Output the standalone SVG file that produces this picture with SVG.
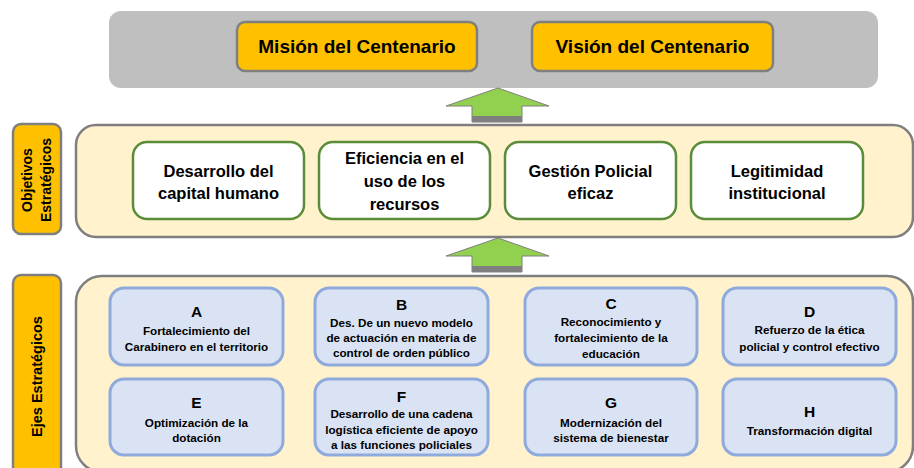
<svg xmlns="http://www.w3.org/2000/svg" width="914" height="468" viewBox="0 0 914 468">
<style>
text{font-family:"Liberation Sans",Arial,sans-serif;font-weight:bold;fill:#000;text-anchor:middle}
.gray{fill:#BFBFBF}
.gold{fill:#FFC000;stroke:#7F7F7F;stroke-width:2.5}
.cream{fill:#FFF2CC;stroke:#7F7F7F;stroke-width:2.5}
.obj{fill:#FFFFFF;stroke:#5B8C3A;stroke-width:2.5}
.eje{fill:#DAE3F3;stroke:#8FAADC;stroke-width:3}
.arr{fill:#92D050;stroke:#7F7F7F;stroke-width:1}
.band{fill:#7F7F7F}
.t1{font-size:19px}
.t2{font-size:16.5px}
.t3{font-size:11.7px}
.tl{font-size:15.5px}
.lab{font-size:14px}
</style>
<g id="top">
<rect class="gray" x="109" y="11" width="769" height="77" rx="12"/>
</g>
<g id="mision">
<rect class="gold" x="237" y="22" width="240" height="49" rx="8"/>
<text class="t1" x="357" y="53">Misión del Centenario</text>
</g>
<g id="vision">
<rect class="gold" x="532" y="22" width="241" height="49" rx="8"/>
<text class="t1" x="652.5" y="53">Visión del Centenario</text>
</g>
<g id="objetivos-label">
<rect class="gold" x="13" y="124" width="48" height="110" rx="8"/>
<text class="lab" transform="translate(32,180) rotate(-90)">Objetivos</text>
<text class="lab" transform="translate(51,180) rotate(-90)">Estratégicos</text>
</g>
<g id="objetivos">
<rect class="cream" x="76" y="125" width="837" height="112" rx="20"/>
</g>
<g id="obj1">
<rect class="obj" x="133" y="142" width="171" height="77" rx="14"/>
<text class="t2" x="218.5" y="177">Desarrollo del</text>
<text class="t2" x="218.5" y="199">capital humano</text>
</g>
<g id="obj2">
<rect class="obj" x="319" y="142" width="171" height="77" rx="14"/>
<text class="t2" x="404.5" y="164">Eficiencia en el</text>
<text class="t2" x="404.5" y="187">uso de los</text>
<text class="t2" x="404.5" y="210">recursos</text>
</g>
<g id="obj3">
<rect class="obj" x="505" y="142" width="171" height="77" rx="14"/>
<text class="t2" x="590.5" y="177">Gestión Policial</text>
<text class="t2" x="590.5" y="199">eficaz</text>
</g>
<g id="obj4">
<rect class="obj" x="691" y="142" width="172" height="77" rx="14"/>
<text class="t2" x="777" y="177">Legitimidad</text>
<text class="t2" x="777" y="199">institucional</text>
</g>
<g id="ejes-label">
<rect class="gold" x="13" y="275" width="48" height="205" rx="8"/>
<text class="lab" style="font-size:14.5px" transform="translate(42,376.5) rotate(-90)">Ejes Estratégicos</text>
</g>
<g id="ejes">
<rect class="cream" x="76" y="276" width="837" height="196" rx="26"/>
</g>
<g id="ejeA">
<rect class="eje" x="110" y="288" width="173" height="77" rx="14"/>
<text class="tl" x="196.5" y="317">A</text>
<text class="t3" x="196.5" y="335">Fortalecimiento del</text>
<text class="t3" x="196.5" y="351">Carabinero en el territorio</text>
</g>
<g id="ejeB">
<rect class="eje" x="315" y="288" width="173" height="77" rx="14"/>
<text class="tl" x="401.5" y="310">B</text>
<text class="t3" x="401.5" y="327">Des. De un nuevo modelo</text>
<text class="t3" x="401.5" y="342">de actuación en materia de</text>
<text class="t3" x="401.5" y="357">control de orden público</text>
</g>
<g id="ejeC">
<rect class="eje" x="525" y="288" width="172" height="77" rx="14"/>
<text class="tl" x="611" y="309">C</text>
<text class="t3" x="611" y="326">Reconocimiento y</text>
<text class="t3" x="611" y="342">fortalecimiento de la</text>
<text class="t3" x="611" y="358">educación</text>
</g>
<g id="ejeD">
<rect class="eje" x="723" y="288" width="173" height="77" rx="14"/>
<text class="tl" x="809.5" y="317">D</text>
<text class="t3" x="809.5" y="334">Refuerzo de la ética</text>
<text class="t3" x="809.5" y="351">policial y control efectivo</text>
</g>
<g id="ejeE">
<rect class="eje" x="110" y="379" width="173" height="76" rx="14"/>
<text class="tl" x="196.5" y="408">E</text>
<text class="t3" x="196.5" y="427">Optimización de la</text>
<text class="t3" x="196.5" y="442">dotación</text>
</g>
<g id="ejeF">
<rect class="eje" x="315" y="379" width="173" height="76" rx="14"/>
<text class="tl" x="401.5" y="402">F</text>
<text class="t3" x="401.5" y="418">Desarrollo de una cadena</text>
<text class="t3" x="401.5" y="434">logística eficiente de apoyo</text>
<text class="t3" x="401.5" y="449">a las funciones policiales</text>
</g>
<g id="ejeG">
<rect class="eje" x="525" y="379" width="172" height="76" rx="14"/>
<text class="tl" x="611" y="408">G</text>
<text class="t3" x="611" y="427">Modernización del</text>
<text class="t3" x="611" y="442">sistema de bienestar</text>
</g>
<g id="ejeH">
<rect class="eje" x="723" y="379" width="173" height="76" rx="14"/>
<text class="tl" x="809.5" y="417">H</text>
<text class="t3" x="809.5" y="435">Transformación digital</text>
</g>
<g id="connectors">
<polygon class="arr" points="498,88 549,106 522,106 522,122 472,122 472,106 446,106"/>
<rect class="band" x="472" y="116" width="50" height="6"/>
<polygon class="arr" points="498,238 549,256 522,256 522,272 472,272 472,256 446,256"/>
<rect class="band" x="472" y="266" width="50" height="6"/>
</g>
</svg>
